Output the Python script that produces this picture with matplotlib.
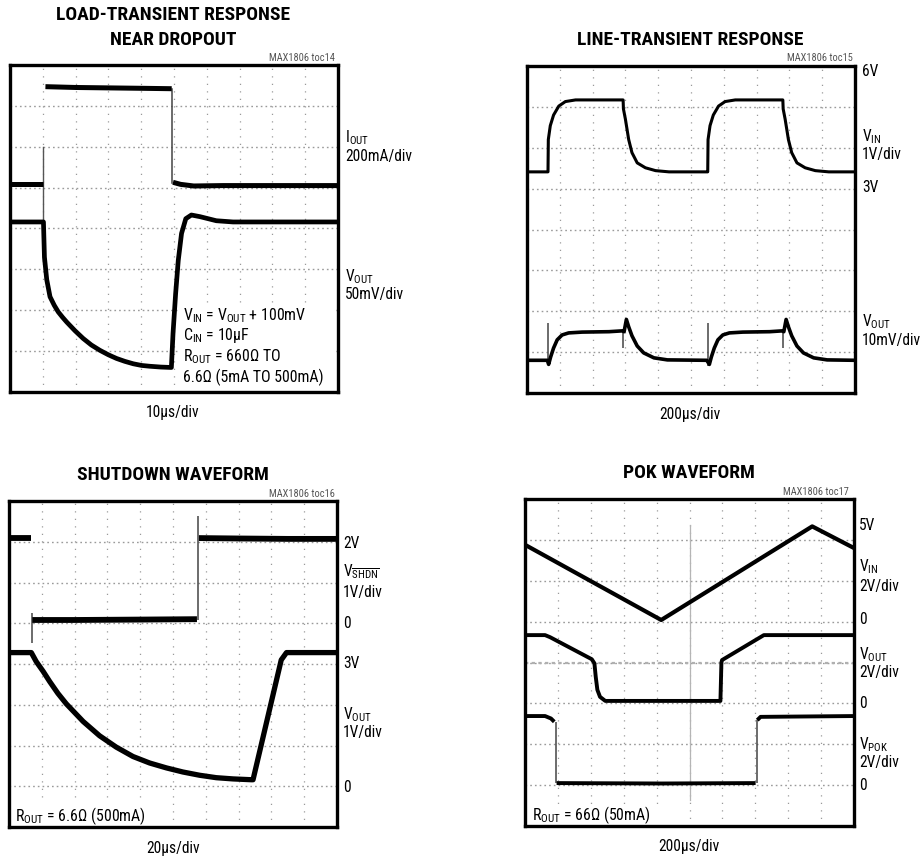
import matplotlib
matplotlib.use('Agg')
import matplotlib.pyplot as plt
from matplotlib import font_manager as fm
from matplotlib.patches import Rectangle

# ---------------- data (screen divisions: x 0..10, y 0..8) ----------------
# Panel 1: load-transient response near dropout
p1_iout_lo_x = [0.0, 1.02]
p1_iout_lo_y = [5.09, 5.09]
p1_iout_hi_x = [1.08, 2.0, 3.0, 4.0, 4.93]
p1_iout_hi_y = [7.47, 7.45, 7.44, 7.43, 7.42]
p1_iout_end_x = [4.97, 5.2, 5.6, 6.5, 10.0]
p1_iout_end_y = [5.13, 5.08, 5.04, 5.05, 5.05]
p1_edge_up_x = [1.02, 1.02]
p1_edge_up_y = [3.2, 6.0]
p1_edge_dn_x = [4.95, 4.95]
p1_edge_dn_y = [7.42, 5.12]
p1_vout_x = [0.0, 1.02, 1.05, 1.12, 1.22, 1.35, 1.47, 1.60, 1.73, 1.98, 2.23, 2.48, 2.74,
             3.00, 3.25, 3.50, 3.76, 4.01, 4.26, 4.60, 4.92,
             4.97, 5.05, 5.13, 5.23, 5.36, 5.53, 5.79, 6.29, 6.80, 10.0]
p1_vout_y = [4.16, 4.16, 3.30, 2.75, 2.33, 2.12, 1.96, 1.83, 1.71, 1.50, 1.31, 1.15, 1.02,
             0.91, 0.82, 0.75, 0.69, 0.65, 0.63, 0.61, 0.60,
             1.43, 2.41, 3.22, 3.88, 4.24, 4.33, 4.29, 4.19, 4.16, 4.16]

# Panel 2: line-transient response
p2_vin_x = [0.0, 0.64, 0.65, 0.71, 0.81, 0.97, 1.17, 1.48, 2.93,
            2.94, 3.00, 3.10, 3.20, 3.36, 3.61, 3.92, 4.33, 5.50,
            5.51, 5.52, 5.58, 5.68, 5.84, 6.04, 6.35, 7.80,
            7.81, 7.87, 7.97, 8.07, 8.23, 8.48, 8.79, 9.20, 10.0]
p2_vin_y = [5.41, 5.41, 6.20, 6.54, 6.80, 7.02, 7.13, 7.17, 7.17,
            6.95, 6.70, 6.20, 5.88, 5.63, 5.51, 5.44, 5.41, 5.41,
            5.41, 6.20, 6.54, 6.80, 7.02, 7.13, 7.17, 7.17,
            6.95, 6.70, 6.20, 5.88, 5.63, 5.51, 5.44, 5.41, 5.41]
p2_vout_x = [0.0, 0.62, 0.66, 0.72, 0.81, 0.92, 1.07, 1.27, 1.68, 2.50, 2.90,
             2.96, 3.03, 3.10, 3.20, 3.36, 3.56, 3.87, 4.28, 5.48,
             5.56, 5.62, 5.71, 5.82, 5.97, 6.17, 6.58, 7.40, 7.78,
             7.83, 7.90, 7.97, 8.07, 8.23, 8.43, 8.74, 9.15, 10.0]
p2_vout_y = [0.80, 0.80, 0.70, 0.88, 1.10, 1.30, 1.42, 1.47, 1.49, 1.50, 1.52,
             1.50, 1.80, 1.62, 1.40, 1.15, 0.98, 0.86, 0.81, 0.80,
             0.70, 0.88, 1.10, 1.30, 1.42, 1.47, 1.49, 1.50, 1.52,
             1.50, 1.80, 1.62, 1.40, 1.15, 0.98, 0.86, 0.81, 0.80]
p2_spike_x = [0.64, 2.93, 5.53, 7.80]
p2_spike_lo = [0.68, 1.09, 0.66, 1.09]
p2_spike_hi = [1.71, 1.52, 1.71, 1.52]

# Panel 3: shutdown waveform
p3_shdn_a_x = [0.0, 0.68]
p3_shdn_a_y = [7.08, 7.08]
p3_shdn_b_x = [0.71, 2.0, 4.0, 5.73]
p3_shdn_b_y = [5.08, 5.08, 5.09, 5.10]
p3_shdn_c_x = [5.79, 7.0, 8.5, 10.0]
p3_shdn_c_y = [7.09, 7.08, 7.07, 7.07]
p3_edge_x = [0.70, 5.76]
p3_edge_lo = [4.51, 5.08]
p3_edge_hi = [5.25, 7.63]
p3_vout_x = [0.0, 0.68, 0.83, 1.04, 1.24, 1.49, 1.75, 2.26, 2.76, 3.27, 3.78, 4.29,
             4.80, 5.30, 5.81, 6.32, 6.83, 7.39, 7.44, 8.30, 8.46, 10.0]
p3_vout_y = [4.28, 4.28, 4.06, 3.82, 3.57, 3.28, 3.02, 2.59, 2.24, 1.96, 1.73, 1.57,
             1.45, 1.35, 1.27, 1.21, 1.18, 1.16, 1.16, 4.10, 4.28, 4.28]

# Panel 4: POK waveform
p4_vin_x = [0.0, 4.14, 8.73, 10.0]
p4_vin_y = [6.88, 5.04, 7.33, 6.80]
p4_vout_x = [0.0, 0.61, 0.76, 2.03, 2.11, 2.15, 2.20, 2.28, 2.44, 5.94, 5.97, 5.99, 7.26, 10.0]
p4_vout_y = [4.67, 4.67, 4.62, 4.08, 3.98, 3.65, 3.33, 3.16, 3.06, 3.06, 4.00, 4.06, 4.67, 4.67]
p4_pok_a_x = [0.0, 0.61, 0.79, 0.89]
p4_pok_a_y = [2.69, 2.69, 2.63, 2.55]
p4_pok_b_x = [0.96, 4.16, 7.01]
p4_pok_b_y = [1.05, 1.04, 1.05]
p4_pok_c_x = [7.06, 7.16, 10.0]
p4_pok_c_y = [2.59, 2.67, 2.69]
p4_edge_x = [0.93, 7.04]
p4_edge_lo = [1.05, 1.05]
p4_edge_hi = [2.55, 2.59]

# ---------------- fonts ----------------
def pick(fams):
    for f in fams:
        try:
            fm.findfont(fm.FontProperties(family=f), fallback_to_default=False)
            return f
        except Exception:
            pass
    return 'DejaVu Sans'

FONT = pick(['Liberation Sans Narrow', 'Arial Narrow', 'Roboto Condensed', 'Liberation Sans'])
plt.rcParams['font.family'] = [FONT, 'DejaVu Sans']
plt.rcParams['mathtext.fontset'] = 'custom'
plt.rcParams['mathtext.rm'] = FONT
plt.rcParams['mathtext.it'] = FONT
plt.rcParams['mathtext.bf'] = FONT + ':bold'

W, H = 924, 860
fig = plt.figure(figsize=(W / 100, H / 100), dpi=100)

LBL = 11.2
ANN = 11.4
TTL = 14
GRID = '#9a9a9a'


def ftxt(x, y, s, **kw):
    kw.setdefault('fontsize', LBL)
    fig.text(x / W, 1 - y / H, s, **kw)


def add_panel(x0, y0, x1, y1, center=False):
    ax = fig.add_axes([x0 / W, 1 - y1 / H, (x1 - x0) / W, (y1 - y0) / H])
    ax.set_xlim(0, 10)
    ax.set_ylim(0, 8)
    ax.set_xticks([])
    ax.set_yticks([])
    for s in ax.spines.values():
        s.set_linewidth(2.4)
        s.set_zorder(10)
    for i in range(1, 10):
        ax.axvline(i, color=GRID, lw=0.9, ls=(0, (1, 5)), zorder=1)
    for j in range(1, 8):
        ax.axhline(j, color=GRID, lw=1.0, ls=(0, (1.2, 2.2)), zorder=1)
    if center:
        ax.axvline(5, 0.08, 0.92, color='#b5b5b5', lw=0.9, zorder=1)
        ax.axhline(4, color='#b0b0b0', lw=1.6, ls=(0, (1.5, 1.5)), zorder=1)
    return ax


def trace(ax, x, y, lw):
    ax.plot(x, y, color='black', lw=lw, solid_capstyle='butt', solid_joinstyle='round', zorder=5)


def edges(ax, xs, lo, hi):
    ax.vlines(xs, lo, hi, color='#444444', lw=1.1, zorder=4)


# ---------------- Panel 1 ----------------
ax1 = add_panel(10, 65, 338, 392)
trace(ax1, p1_iout_lo_x, p1_iout_lo_y, 3.6)
trace(ax1, p1_iout_hi_x, p1_iout_hi_y, 3.6)
trace(ax1, p1_iout_end_x, p1_iout_end_y, 3.6)
ax1.plot(p1_edge_up_x, p1_edge_up_y, color='#555555', lw=1.0, zorder=4)
ax1.plot(p1_edge_dn_x, p1_edge_dn_y, color='#444444', lw=1.1, zorder=4)
trace(ax1, p1_vout_x, p1_vout_y, 3.4)
ax1.add_patch(Rectangle((5.18, 0.02), 4.7, 2.14, facecolor='white', edgecolor='none', zorder=3))
for yy, s in zip([1.88, 1.39, 0.86, 0.37],
                 [r'$\mathregular{V_{IN}}$ = $\mathregular{V_{OUT}}$ + 100mV',
                  r'$\mathregular{C_{IN}}$ = 10µF',
                  r'$\mathregular{R_{OUT}}$ = 660Ω TO',
                  '6.6Ω (5mA TO 500mA)']):
    ax1.text(5.28, yy, s, fontsize=ANN, va='center', ha='left', zorder=6)

ftxt(173, 15, 'LOAD-TRANSIENT RESPONSE', fontsize=TTL, fontweight='bold', ha='center', va='center')
ftxt(173, 40, 'NEAR DROPOUT', fontsize=TTL, fontweight='bold', ha='center', va='center')
ftxt(335, 58, 'MAX1806 toc14', fontsize=7.5, color='#555555', ha='right', va='center')
ftxt(345, 138, r'$\mathregular{I_{OUT}}$', ha='left', va='center')
ftxt(345, 157, '200mA/div', ha='left', va='center')
ftxt(345, 277, r'$\mathregular{V_{OUT}}$', ha='left', va='center')
ftxt(345, 295, '50mV/div', ha='left', va='center')
ftxt(173, 413, '10µs/div', ha='center', va='center')

# ---------------- Panel 2 ----------------
ax2 = add_panel(527, 66, 855, 393)
trace(ax2, p2_vin_x, p2_vin_y, 2.2)
trace(ax2, p2_vout_x, p2_vout_y, 2.6)
edges(ax2, p2_spike_x, p2_spike_lo, p2_spike_hi)

ftxt(690, 40, 'LINE-TRANSIENT RESPONSE', fontsize=TTL, fontweight='bold', ha='center', va='center')
ftxt(853, 58, 'MAX1806 toc15', fontsize=7.5, color='#555555', ha='right', va='center')
ftxt(862, 72, '6V', ha='left', va='center')
ftxt(862, 137, r'$\mathregular{V_{IN}}$', ha='left', va='center')
ftxt(862, 155, '1V/div', ha='left', va='center')
ftxt(862, 188, '3V', ha='left', va='center')
ftxt(862, 322, r'$\mathregular{V_{OUT}}$', ha='left', va='center')
ftxt(862, 340, '10mV/div', ha='left', va='center')
ftxt(690, 415, '200µs/div', ha='center', va='center')

# ---------------- Panel 3 ----------------
ax3 = add_panel(9, 501, 337, 827)
trace(ax3, p3_shdn_a_x, p3_shdn_a_y, 4.2)
trace(ax3, p3_shdn_b_x, p3_shdn_b_y, 4.2)
trace(ax3, p3_shdn_c_x, p3_shdn_c_y, 4.2)
edges(ax3, p3_edge_x, p3_edge_lo, p3_edge_hi)
trace(ax3, p3_vout_x, p3_vout_y, 3.8)
ax3.add_patch(Rectangle((0.07, 0.0), 4.53, 0.59, facecolor='white', edgecolor='none', zorder=3))
ax3.text(0.18, 0.27, r'$\mathregular{R_{OUT}}$ = 6.6Ω (500mA)', fontsize=ANN, va='center', ha='left', zorder=6)

ftxt(173, 475, 'SHUTDOWN WAVEFORM', fontsize=TTL, fontweight='bold', ha='center', va='center')
ftxt(335, 494, 'MAX1806 toc16', fontsize=7.5, color='#555555', ha='right', va='center')
ftxt(343, 543, '2V', ha='left', va='center')
ftxt(343, 572, r'$\mathregular{V_{\overline{SHDN}}}$', ha='left', va='center')
ftxt(343, 592, '1V/div', ha='left', va='center')
ftxt(343, 623, '0', ha='left', va='center')
ftxt(343, 663, '3V', ha='left', va='center')
ftxt(343, 715, r'$\mathregular{V_{OUT}}$', ha='left', va='center')
ftxt(343, 733, '1V/div', ha='left', va='center')
ftxt(343, 787, '0', ha='left', va='center')
ftxt(173, 848, '20µs/div', ha='center', va='center')

# ---------------- Panel 4 ----------------
ax4 = add_panel(525, 499, 854, 826, center=True)
trace(ax4, p4_vin_x, p4_vin_y, 3.0)
trace(ax4, p4_vout_x, p4_vout_y, 2.8)
trace(ax4, p4_pok_a_x, p4_pok_a_y, 2.8)
trace(ax4, p4_pok_b_x, p4_pok_b_y, 2.8)
trace(ax4, p4_pok_c_x, p4_pok_c_y, 2.8)
edges(ax4, p4_edge_x, p4_edge_lo, p4_edge_hi)
ax4.add_patch(Rectangle((0.1, 0.0), 4.27, 0.55, facecolor='white', edgecolor='none', zorder=3))
ax4.text(0.22, 0.27, r'$\mathregular{R_{OUT}}$ = 66Ω (50mA)', fontsize=ANN, va='center', ha='left', zorder=6)

ftxt(689, 473, 'POK WAVEFORM', fontsize=TTL, fontweight='bold', ha='center', va='center')
ftxt(849, 492, 'MAX1806 toc17', fontsize=7.5, color='#555555', ha='right', va='center')
ftxt(859, 525, '5V', ha='left', va='center')
ftxt(859, 567, r'$\mathregular{V_{IN}}$', ha='left', va='center')
ftxt(859, 587, '2V/div', ha='left', va='center')
ftxt(859, 619, '0', ha='left', va='center')
ftxt(859, 655, r'$\mathregular{V_{OUT}}$', ha='left', va='center')
ftxt(859, 673, '2V/div', ha='left', va='center')
ftxt(859, 703, '0', ha='left', va='center')
ftxt(859, 745, r'$\mathregular{V_{POK}}$', ha='left', va='center')
ftxt(859, 763, '2V/div', ha='left', va='center')
ftxt(859, 785, '0', ha='left', va='center')
ftxt(689, 847, '200µs/div', ha='center', va='center')

fig.savefig('out.png', dpi=100, facecolor='white')
